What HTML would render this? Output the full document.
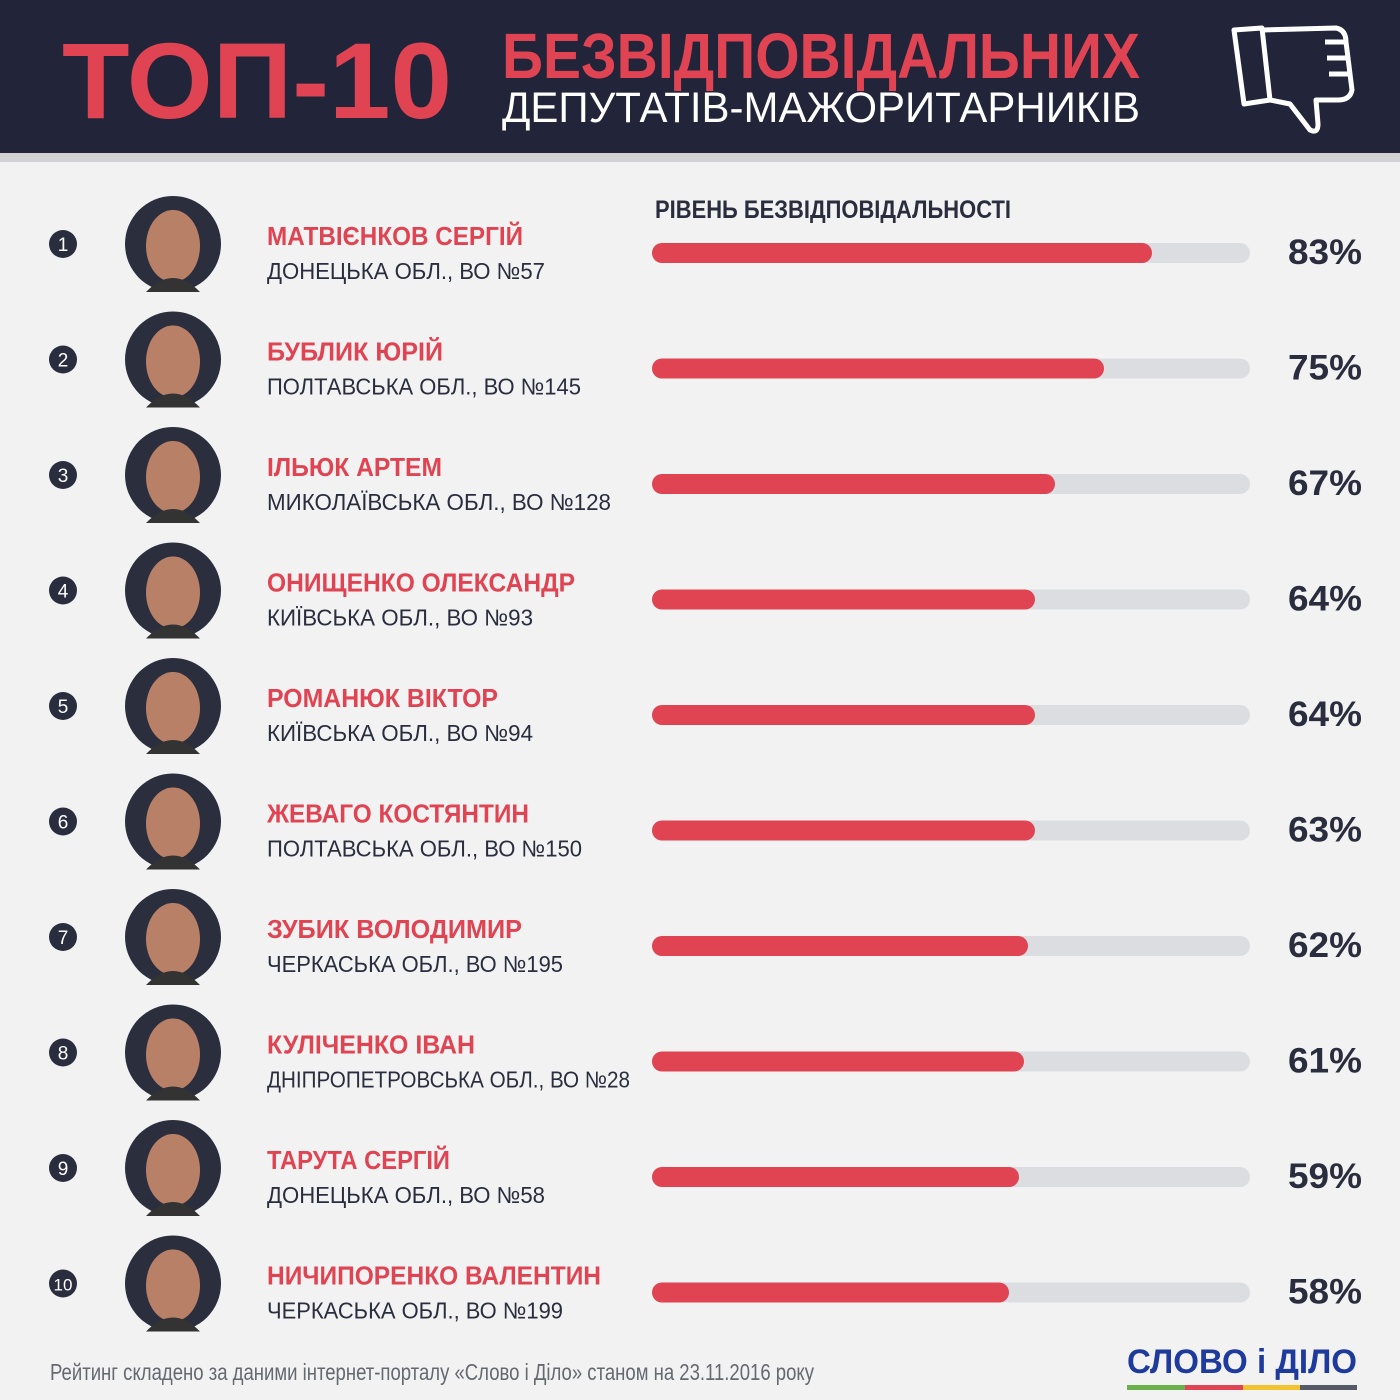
<!DOCTYPE html>
<html><head><meta charset="utf-8"><style>
html,body{margin:0;padding:0;background:#f2f2f2}
svg{display:block}
text{font-family:"Liberation Sans",sans-serif}
</style></head><body>
<svg width="1400" height="1400" viewBox="0 0 1400 1400" xmlns="http://www.w3.org/2000/svg">
<rect width="1400" height="1400" fill="#f2f2f2"/>
<rect width="1400" height="153" fill="#22243a"/>
<rect y="153" width="1400" height="9" fill="#d2d2d4"/>
<text x="62" y="118" font-size="108" font-weight="bold" fill="#e04452" textLength="390" lengthAdjust="spacingAndGlyphs">ТОП-10</text>
<text x="502" y="78" font-size="64" font-weight="bold" fill="#e04452" textLength="638" lengthAdjust="spacingAndGlyphs">БЕЗВІДПОВІДАЛЬНИХ</text>
<text x="502" y="122" font-size="43" fill="#ffffff" textLength="638" lengthAdjust="spacingAndGlyphs">ДЕПУТАТІВ-МАЖОРИТАРНИКІВ</text>
<g fill="none" stroke="#fff" stroke-width="5" stroke-linejoin="round">
<path d="M1234 30 L1262 28 L1270 100 L1244 104 Z"/>
<path d="M1262 30 L1336 28 Q1346 30 1346 42 L1352 90 Q1350 100 1338 100 L1316 100 L1318 124 Q1318 134 1310 130 L1290 104 L1270 100"/>
<path d="M1325 42 L1345 42 M1327 58 L1348 58 M1329 74 L1350 74"/>
</g>
<text x="655" y="218" font-size="25" font-weight="bold" fill="#2a2d3e" textLength="356" lengthAdjust="spacingAndGlyphs">РІВЕНЬ БЕЗВІДПОВІДАЛЬНОСТІ</text>
<g id="rows">
</g>
<text x="50" y="1380" font-size="23" fill="#666870" textLength="764" lengthAdjust="spacingAndGlyphs">Рейтинг складено за даними інтернет-порталу «Слово і Діло» станом на 23.11.2016 року</text>
<text x="1127" y="1373" font-size="34" font-weight="bold" fill="#1d3a9c" textLength="230" lengthAdjust="spacingAndGlyphs">СЛОВО і ДІЛО</text>
<rect x="1127" y="1385" width="58" height="5" fill="#6ab04c"/>
<rect x="1185" y="1385" width="58" height="5" fill="#e04452"/>
<rect x="1243" y="1385" width="57" height="5" fill="#f2c230"/>
<rect x="1300" y="1385" width="57" height="5" fill="#555a66"/>
</svg>
<script>
var d=[["МАТВІЄНКОВ СЕРГІЙ","ДОНЕЦЬКА ОБЛ., ВО №57",83,256,278],["БУБЛИК ЮРІЙ","ПОЛТАВСЬКА ОБЛ., ВО №145",75,176,314],["ІЛЬЮК АРТЕМ","МИКОЛАЇВСЬКА ОБЛ., ВО №128",67,175,344],["ОНИЩЕНКО ОЛЕКСАНДР","КИЇВСЬКА ОБЛ., ВО №93",64,308,266],["РОМАНЮК ВІКТОР","КИЇВСЬКА ОБЛ., ВО №94",64,231,266],["ЖЕВАГО КОСТЯНТИН","ПОЛТАВСЬКА ОБЛ., ВО №150",63,262,315],["ЗУБИК ВОЛОДИМИР","ЧЕРКАСЬКА ОБЛ., ВО №195",62,255,296],["КУЛІЧЕНКО ІВАН","ДНІПРОПЕТРОВСЬКА ОБЛ., ВО №28",61,208,363],["ТАРУТА СЕРГІЙ","ДОНЕЦЬКА ОБЛ., ВО №58",59,183,278],["НИЧИПОРЕНКО ВАЛЕНТИН","ЧЕРКАСЬКА ОБЛ., ВО №199",58,334,296]];
var g=document.getElementById("rows"),h="";
d.forEach(function(r,i){var c=244+i*115.5;var w=[500,452,403,383,383,383,376,372,367,357][i];
h+='<circle cx="63" cy="'+c+'" r="14" fill="#2a2d3e"/><text x="63" y="'+(c+7)+'" font-size="'+(i==9?17:19)+'" fill="#fff" text-anchor="middle">'+(i+1)+'</text>';
h+='<circle cx="173" cy="'+c+'" r="48" fill="#2b2e3c"/><ellipse cx="173" cy="'+(c+2)+'" rx="27" ry="36" fill="#b98068"/><path d="M146 '+(c+48)+' Q173 '+(c+20)+' 200 '+(c+48)+'" fill="#333"/>';
h+='<text x="267" y="'+(c+1)+'" font-size="26" font-weight="bold" fill="#e04452" textLength="'+r[3]+'" lengthAdjust="spacingAndGlyphs">'+r[0]+'</text>';
h+='<text x="267" y="'+(c+35)+'" font-size="23" fill="#2a2d3e" textLength="'+r[4]+'" lengthAdjust="spacingAndGlyphs">'+r[1]+'</text>';
h+='<rect x="652" y="'+(c-1)+'" width="598" height="20" rx="10" fill="#dcdde1"/><rect x="652" y="'+(c-1)+'" width="'+w+'" height="20" rx="10" fill="#e04452"/>';
h+='<text x="1362" y="'+(c+20)+'" font-size="35" font-weight="bold" fill="#2a2d3e" text-anchor="end" textLength="74" lengthAdjust="spacingAndGlyphs">'+r[2]+'%</text>';});
g.innerHTML=h;
</script>
</body></html>
